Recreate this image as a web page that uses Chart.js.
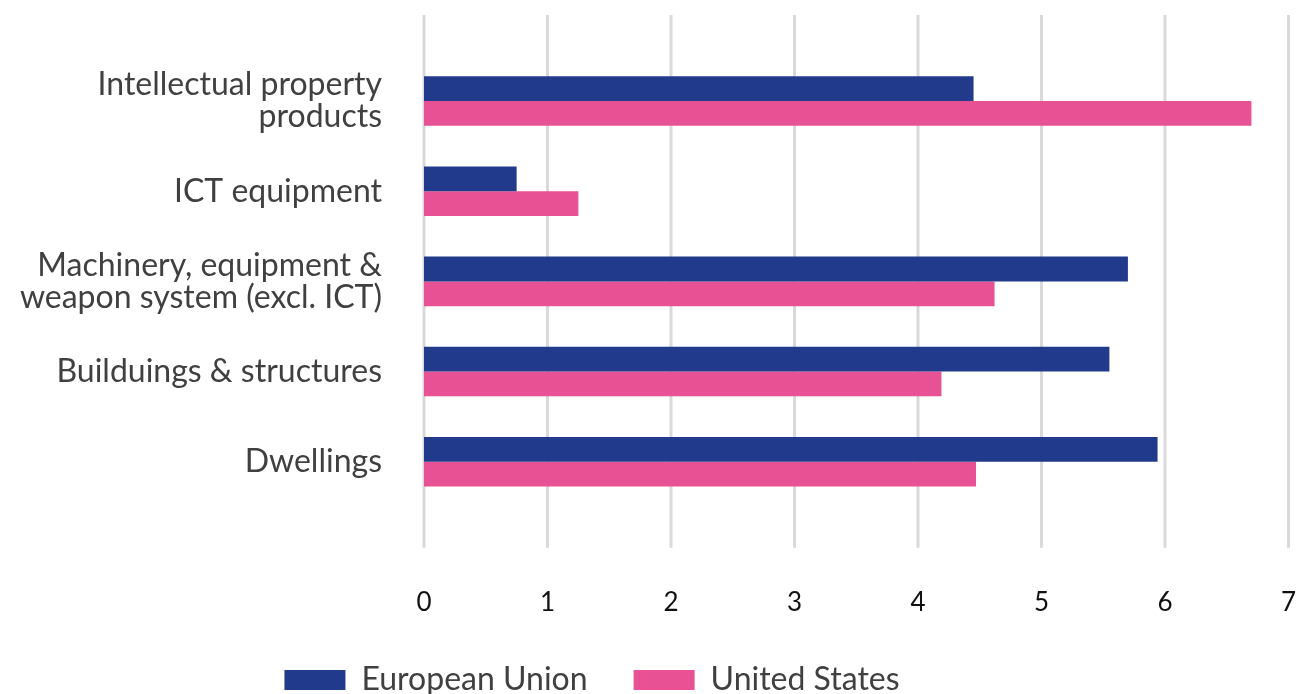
<!DOCTYPE html>
<html>
<head>
<meta charset="utf-8">
<script src="https://cdn.jsdelivr.net/npm/chart.js@4"></script>
<style>
  html, body { margin: 0; padding: 0; background: #fff; overflow: hidden; }
  .chart-box { position: relative; width: 1296px; height: 706px; }
</style>
</head>
<body>
<div class="chart-box"><canvas id="chart"></canvas></div>
<script>
// data
const categories = [
  ["Intellectual property", "products"],
  "ICT equipment",
  ["Machinery, equipment &", "weapon system (excl. ICT)"],
  "Builduings & structures",
  "Dwellings",
];
const euValues = [4.45, 0.75, 5.7, 5.55, 5.94];
const usValues = [6.7, 1.25, 4.62, 4.19, 4.47];
const xTicks = [0, 1, 2, 3, 4, 5, 6, 7];

// gridlines drawn past the bar area, like the original
const tallGrid = {
  id: "tallGrid",
  beforeDatasetsDraw(chart) {
    const { ctx, chartArea, scales } = chart;
    const ext = 41;
    ctx.save();
    ctx.strokeStyle = "#d9d9d9";
    ctx.lineWidth = 3;
    xTicks.forEach((t) => {
      const x = scales.x.getPixelForValue(t);
      ctx.beginPath();
      ctx.moveTo(x, chartArea.top - ext);
      ctx.lineTo(x, chartArea.bottom + ext);
      ctx.stroke();
    });
    ctx.restore();
  },
};

// legend sits a bit left of the canvas centre
const legendShift = {
  id: "legendShift",
  afterLayout(chart) {
    chart.legend.left -= 56;
    chart.legend.right -= 56;
  },
};

const ctx = document.querySelector("#chart").getContext("2d");
new Chart(ctx, {
  type: "bar",
  data: {
    labels: categories,
    datasets: [
      {
        label: "European Union",
        data: euValues,
        backgroundColor: "#223a8c",
        borderWidth: 0,
      },
      {
        label: "United States",
        data: usValues,
        backgroundColor: "#e85294",
        borderWidth: 0,
      },
    ],
  },
  options: {
    indexAxis: "y",
    responsive: true,
    maintainAspectRatio: false,
    animation: false,
    categoryPercentage: 0.55,
    barPercentage: 1,
    layout: { padding: { top: 56, left: 0, right: 0, bottom: 0 } },
    scales: {
      x: {
        min: 0,
        max: 7,
        // tick marks hidden, tickLength only pushes the labels down
        grid: { display: false, drawTicks: true, tickLength: 80 },
        border: { display: false },
        ticks: {
          stepSize: 1,
          padding: 0,
          color: "#111",
          font: { family: "Lato", size: 26 },
        },
      },
      y: {
        grid: { display: false, drawTicks: true, tickLength: 34 },
        border: { display: false },
        afterFit(scale) {
          scale.width = 424;
        },
        ticks: {
          padding: 8,
          color: "#404040",
          font: { family: "Lato", size: 32, lineHeight: 1.0 },
        },
      },
    },
    plugins: {
      tooltip: { enabled: false },
      legend: {
        position: "bottom",
        labels: {
          boxWidth: 61,
          boxHeight: 20,
          padding: 46,
          color: "#404040",
          font: { family: "Lato", size: 32 },
        },
      },
    },
  },
  plugins: [tallGrid, legendShift],
});
</script>
</body>
</html>
